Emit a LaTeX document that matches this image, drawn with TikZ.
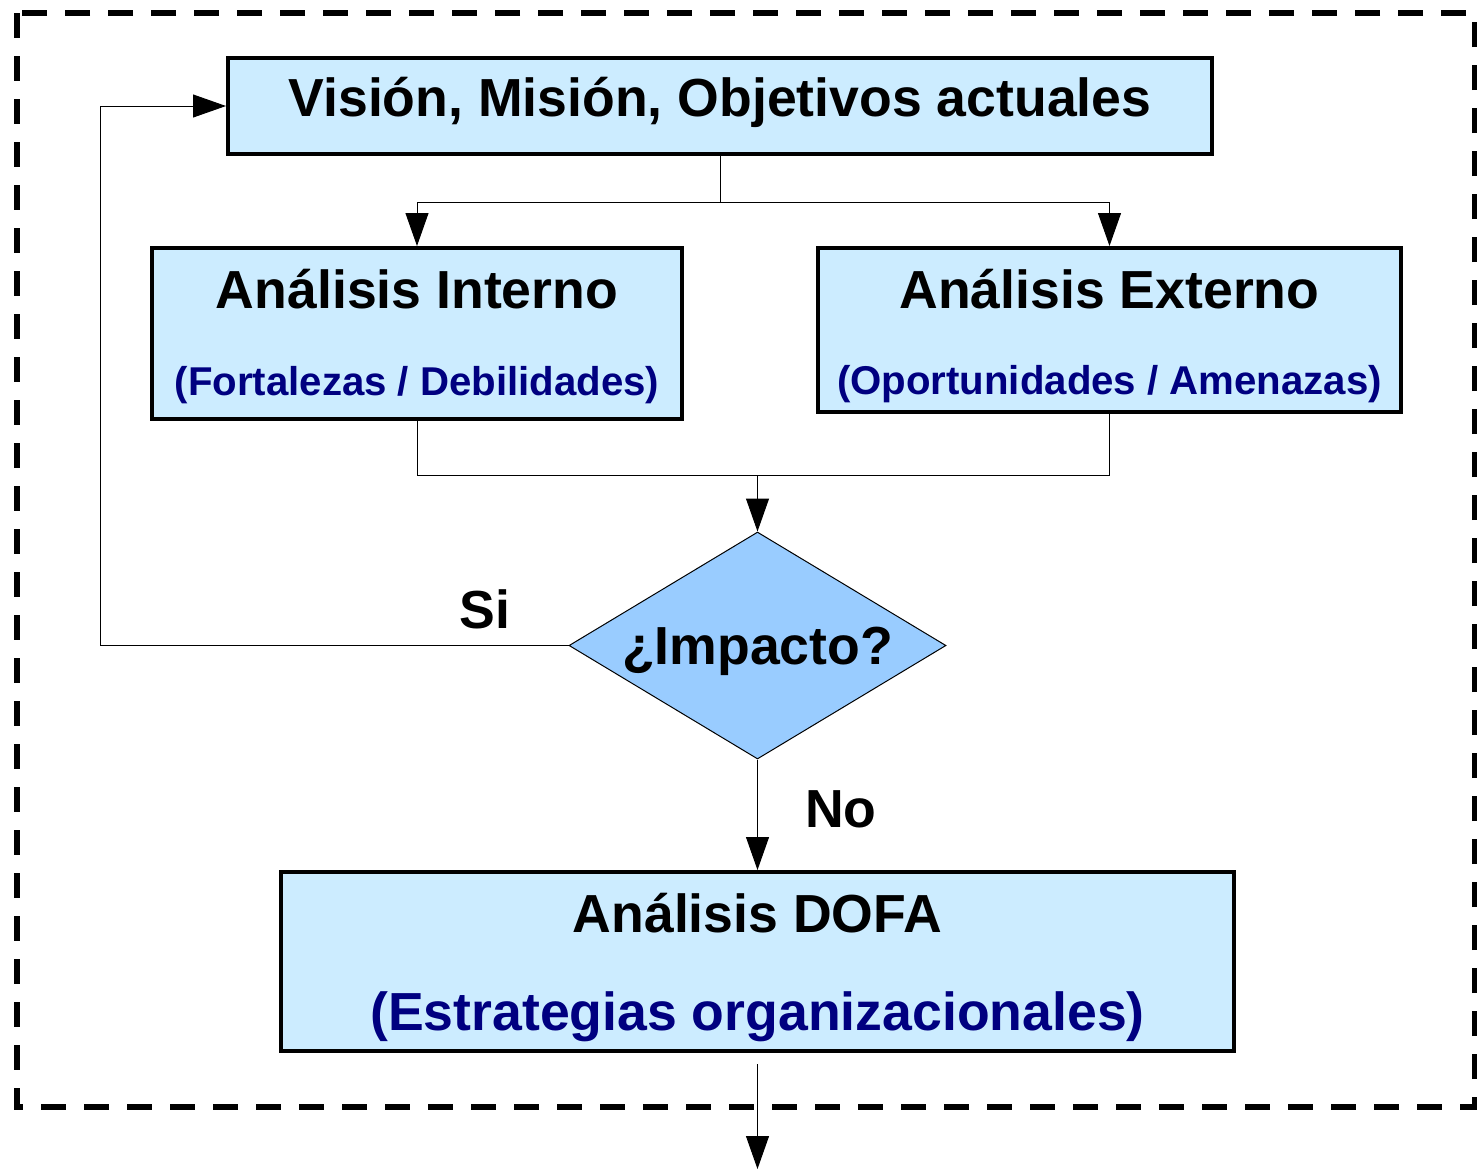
\documentclass[tikz,border=0pt]{standalone}
\usepackage{fontspec}
\setmainfont{Liberation Sans}
\usepackage{tikz}
\usepackage{xcolor}
\usetikzlibrary{calc,shapes.geometric,arrows.meta}
\definecolor{boxfillc}{HTML}{CCECFF}
\definecolor{decisionfillc}{HTML}{99CCFF}
\definecolor{subtextc}{HTML}{000080}
\tikzstyle{procbox} = [
    draw=black,
    fill=boxfillc,
    line width=2pt,
    rectangle,
    inner sep=0pt
    ]
\tikzstyle{decision} = [
    draw=black,
    fill=decisionfillc,
    line width=0.5pt,
    diamond,
    shape aspect=1.66,
    inner sep=0pt
    ]
\tikzstyle{boxtitle} = [
    font=\fontsize{26.8}{30}\selectfont\bfseries,
    anchor=base,
    inner sep=0pt
    ]
\tikzstyle{boxsub} = [
    boxtitle,
    text=subtextc,
    font=\fontsize{20.1}{24}\selectfont\bfseries
    ]
\tikzstyle{boxsubbig} = [
    boxtitle,
    text=subtextc
    ]
\tikzstyle{conn} = [draw=black, line width=0.5pt]
\tikzstyle{arrow} = [conn, -{Triangle[length=16.5pt,width=11.5pt]}]
\tikzstyle{frame} = [draw=black, line width=3pt, dash pattern=on 12.5pt off 9pt]

\begin{document}
\begin{tikzpicture}[x=0.5pt, y=-0.5pt]
\useasboundingbox (0,0) rectangle (1477,1169);
\draw[frame] (17,13) rectangle (1475,1107);

% boxes
\node[procbox, minimum width=492pt, minimum height=48pt] (vision) at (720,106) {};
\node[boxtitle] (visiontxt) at (720,116) {Visión, Misión, Objetivos actuales};

\node[procbox, minimum width=265pt, minimum height=85.5pt] (interno) at (417,333.5) {};
\node[boxtitle] (internotxt) at (417,308) {Análisis Interno};
\node[boxsub] (internosub) at (417,395) {(Fortalezas / Debilidades)};

\node[procbox, minimum width=291.5pt, minimum height=82pt] (externo) at (1109.5,330) {};
\node[boxtitle] (externotxt) at (1109.5,308) {Análisis Externo};
\node[boxsub] (externosub) at (1109.5,394) {(Oportunidades / Amenazas)};

\node[decision, minimum width=188.5pt, minimum height=113.5pt] (impacto) at (757.5,645.5) {};
\node[boxtitle] (impactotxt) at (757.5,664) {¿Impacto?};

\node[procbox, minimum width=476.5pt, minimum height=89.5pt] (dofa) at (757.5,961.5) {};
\node[boxtitle] (dofatxt) at (757.5,932) {Análisis DOFA};
\node[boxsubbig] (dofasub) at (757.5,1030) {(Estrategias organizacionales)};

% labels
\node[boxtitle] (si) at (485,628) {Si};
\node[boxtitle] (no) at (841,827) {No};

% connectors
\coordinate (split) at (720,202);
\coordinate (merge) at (757.5,475);
\coordinate (loop) at (100,645.5);
\coordinate (exit) at (757.5,1169);
\draw[conn] (vision.south) -- (split);
\draw[arrow] (split) -| (interno.north);
\draw[arrow] (split) -| (externo.north);
\draw[conn] (interno.south) |- (merge);
\draw[conn] (externo.south) |- (merge);
\draw[arrow] (merge) -- (impacto.north);
\draw[arrow] (impacto.west) -- (loop) |- (vision.west);
\draw[arrow] (impacto.south) -- (dofa.north);
\draw[arrow] ($(dofa.south)+(0,11)$) -- (exit);
\end{tikzpicture}
\end{document}
